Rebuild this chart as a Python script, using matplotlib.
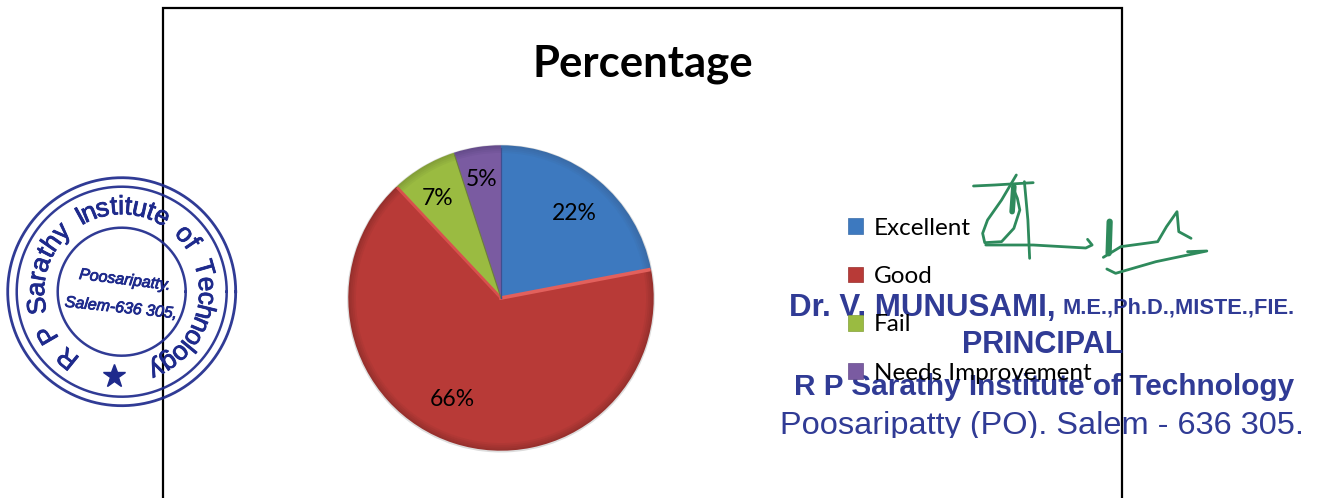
import numpy as np
import matplotlib
matplotlib.use("Agg")
import matplotlib.pyplot as plt
import matplotlib.patheffects as pe
from matplotlib.textpath import TextPath
from matplotlib.font_manager import FontProperties
from matplotlib.colors import to_rgb
from matplotlib.patches import Rectangle, Circle

categories = ["Excellent", "Good", "Fail", "Needs Improvement"]
percent = [22, 66, 7, 5]
title = "Percentage"
main_colors = ["#3d79bf", "#b83a37", "#9abb41", "#7a5ba1"]
rim_colors = ["#3a6ca8", "#98302d", "#84a038", "#664c8c"]

W, H = 1322, 498
STAMP = "#1e2a8c"
SIGN = "#2e8a5c"
FONT = "Lato"

fig = plt.figure(figsize=(W / 100, H / 100), dpi=100, facecolor="white")

# Pie
cx, cy, r = 501, 298, 155
ax = fig.add_axes([(cx - r) / W, 1 - (cy + r) / H, 2 * r / W, 2 * r / H])
LIM = 1.015

ax.add_patch(Circle((0, -0.004), 1.008, fc="#00000022", ec="none"))
levels = np.linspace(1.0, 0.95, 5)
for i, rad in enumerate(levels):
    t = i / (len(levels) - 1)
    cols = [tuple((1 - t) * np.array(to_rgb(a)) + t * np.array(to_rgb(b)))
            for a, b in zip(rim_colors, main_colors)]
    ax.pie(percent, colors=cols, startangle=90, counterclock=False, radius=rad,
           frame=False, normalize=True)
wedges, _, autotexts = ax.pie(percent, colors=main_colors, startangle=90, counterclock=False,
                              radius=0.945, frame=False, autopct="%1.0f%%", pctdistance=0.8,
                              wedgeprops=dict(edgecolor="none"),
                              textprops=dict(fontsize=16.5, family=FONT, color="black"))
for t_ in autotexts:
    t_.set_zorder(5)

# Bevel highlights along the radial edges of the slices
bounds = np.cumsum(percent) / np.sum(percent) * 2 * np.pi
bevels = [("#e2605c", 2.6), ("#d8504d", 2.0), ("#6d7f3a", 0.8), ("#3f4f90", 0.9)]
for b, (col, lw) in zip(bounds, bevels):
    ax.plot([0, np.sin(b) * 0.985], [0, np.cos(b) * 0.985], color=col, lw=lw, zorder=4)

ax.set_xlim(-LIM, LIM); ax.set_ylim(-LIM, LIM); ax.set_aspect("equal"); ax.axis("off")

label_shift = [(0, -4), (-13, 8), (-5, 0), (-1, 4)]
for t_, (dx, dy) in zip(autotexts, label_shift):
    px, py = t_.get_position()
    t_.set_position((px + dx / 152, py + dy / 152))

# Frame + overlays in pixel coordinates
ov = fig.add_axes([0, 0, 1, 1], zorder=3)
ov.set_xlim(0, W); ov.set_ylim(H, 0); ov.axis("off"); ov.patch.set_alpha(0)
ov.plot([163, 163, 1122, 1122], [498, 8, 8, 498], color="black", lw=1.6, solid_joinstyle="miter")
ov.text(642.5, 64, title, ha="center", va="center", fontsize=31.4, fontweight="bold", family=FONT)

# Legend
handles = [Rectangle((0, 0), 1, 1, fc=c, ec=r_, lw=0.5) for c, r_ in zip(main_colors, rim_colors)]
leg = ov.legend(handles, categories, loc="upper left", bbox_to_anchor=(843 / W, 1 - 213 / H),
                frameon=False, handlelength=0.62, handleheight=0.62,
                handletextpad=0.45, labelspacing=1.12, prop=dict(family=FONT, size=17.5), borderpad=0.2,
                borderaxespad=0)

# Stamp
sx, sy = 121.7, 291.7
th = np.linspace(0, 2 * np.pi, 400)
for rad, lw in [(114, 2.0), (105, 1.8), (64, 1.8)]:
    ov.plot(sx + rad * np.cos(th), sy + rad * np.sin(th), color=STAMP, lw=lw, alpha=0.92)
ring_text = "R P Sarathy Institute of Technology"
fp = FontProperties(family="Liberation Sans", size=19)
adv = np.array([TextPath((0, 0), ch if ch != " " else "n", prop=fp).get_extents().width * 100 / 72 + 3
                for ch in ring_text])
centers = np.cumsum(adv) - adv / 2
start, end = 219.0, 516.0
angles = start + (centers - centers[0]) / (centers[-1] - centers[0]) * (end - start)
stroke = [pe.withStroke(linewidth=0.6, foreground=STAMP)]
for ch, a in zip(ring_text, angles):
    rad = 84.5
    x = sx + rad * np.sin(np.radians(a))
    y = sy - rad * np.cos(np.radians(a))
    ov.text(x, y, ch, ha="center", va="center", rotation=-a, rotation_mode="anchor",
            fontsize=19, family="Liberation Sans", color=STAMP, path_effects=stroke)
ov.text(125, 280, "Poosaripatty.", ha="center", va="center", rotation=-7, fontsize=11.5,
        style="italic", family="Liberation Sans", color=STAMP, path_effects=stroke)
ov.text(121, 308, "Salem-636 305,", ha="center", va="center", rotation=-6, fontsize=11.5,
        style="italic", family="Liberation Sans", color=STAMP, path_effects=stroke)
ov.plot([114], [376], marker="*", ms=17, color=STAMP, mec=STAMP)

# Signature (zoomed-crop coordinates, origin 770,170)
strokes = [
    ([580, 640, 750], [48, 45, 38], 2.0),
    ([702, 660, 620, 606, 612, 660, 695, 712, 705, 695], [15, 90, 150, 190, 218, 215, 175, 120, 85, 60], 2.0),
    ([725, 735, 740], [35, 150, 265], 2.0),
    ([615, 750, 900, 918, 905], [225, 225, 234, 225, 208], 2.0),
    ([695, 690], [50, 125], 4.0),
    ([968, 965], [155, 250], 4.5),
    ([950, 1000, 1105, 1130, 1160, 1165, 1200], [262, 230, 215, 170, 125, 185, 205], 2.0),
    ([960, 985, 1100, 1245, 1190], [297, 310, 275, 243, 245], 2.0),
]
for xs, ys, lw in strokes:
    ov.plot(770 + np.array(xs) / 2.85, 170 + np.array(ys) / 3, color=SIGN, lw=lw, solid_capstyle="round")

# Principal's stamp
kw = dict(family="Liberation Sans", color=STAMP, alpha=0.92, va="center")
ov.text(789, 308, "Dr. V. MUNUSAMI,", ha="left", fontsize=22.5, fontweight="bold", **kw)
ov.text(1062, 308, "M.E.,Ph.D.,MISTE.,FIE.", ha="left", fontsize=15.7, fontweight="bold", **kw)
ov.text(1043, 345, "PRINCIPAL", ha="center", fontsize=22, fontweight="bold", **kw)
ov.text(794, 387, "R P Sarathy Institute of Technology", ha="left", fontsize=21.4, fontweight="bold", **kw)
last = ov.text(780, 426, "Poosaripatty (PO). Salem - 636 305.", ha="left", fontsize=23.4, **kw)
last.set_clip_path(Rectangle((770, 405), 552, 33, transform=ov.transData))
last.set_clip_on(True)

fig.savefig("out.png", dpi=100)
